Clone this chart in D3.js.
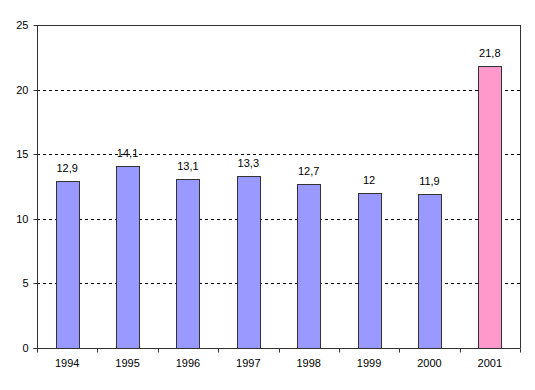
<!DOCTYPE html>
<html><head><meta charset="utf-8">
<script src="https://cdn.jsdelivr.net/npm/d3@7"></script>
<style>body{margin:0;background:#fff}svg{display:block}text{font-family:"Liberation Sans",Arial,sans-serif;font-size:11px;fill:#000}</style>
</head><body>
<script>
const years = ["1994","1995","1996","1997","1998","1999","2000","2001"];
const values = [12.9,14.1,13.1,13.3,12.7,12,11.9,21.8];
const labels = ["12,9","14,1","13,1","13,3","12,7","12","11,9","21,8"];
const yTicks = [0,5,10,15,20,25];
const colors = ["#9999FF","#9999FF","#9999FF","#9999FF","#9999FF","#9999FF","#9999FF","#FF99CC"];

const W=535,H=390, L=37, R=520, T=25, B=348;
const svg=d3.select("body").append("svg").attr("width",W).attr("height",H);
const x=d3.scaleBand().domain(years).range([L,R]).paddingInner(0.62).paddingOuter(0.31);
const xo=d3.scaleBand().domain(years).range([L,R]);
const y=d3.scaleLinear().domain([0,25]).range([B,T]);

// grid
svg.append("g").selectAll("line").data(yTicks.filter(d=>d>0&&d<25)).join("line")
 .attr("x1",L).attr("x2",R).attr("y1",d=>Math.round(y(d))+0.5).attr("y2",d=>Math.round(y(d))+0.5)
 .attr("stroke","#000").attr("stroke-dasharray","3,3");
// top & right border
svg.append("line").attr("x1",L).attr("x2",R+0.5).attr("y1",T+0.5).attr("y2",T+0.5).attr("stroke","#333");
svg.append("line").attr("x1",R+0.5).attr("x2",R+0.5).attr("y1",T).attr("y2",B).attr("stroke","#333");

// bars
svg.append("g").selectAll("rect").data(years).join("rect")
 .attr("x",d=>Math.round(x(d))+0.5).attr("width",Math.round(x.bandwidth()))
 .attr("y",(d,i)=>Math.round(y(values[i]))+0.5).attr("height",(d,i)=>Math.round(B-y(values[i])))
 .attr("fill",(d,i)=>colors[i]).attr("stroke","#333");
svg.append("g").selectAll("text").data(years).join("text")
 .attr("x",d=>x(d)+x.bandwidth()/2).attr("y",(d,i)=>y(values[i])-9)
 .attr("text-anchor","middle").text((d,i)=>labels[i]);

// y axis
const ya=svg.append("g").attr("transform",`translate(${L+0.5},0)`)
 .call(d3.axisLeft(y).tickValues(yTicks).tickSize(4).tickPadding(5).tickFormat(d3.format("d")));
ya.select(".domain").attr("stroke","#333").attr("d",`M-4,${B+0.5}H0V${T}`);
ya.selectAll(".tick line").attr("stroke","#333");
ya.selectAll(".tick text").style("font-family","Liberation Sans, Arial").style("font-size","11px").attr("fill","#000");
ya.selectAll(".tick").attr("transform",d=>`translate(0,${Math.round(y(d))+0.5})`);

// x axis
const xa=svg.append("g").attr("transform",`translate(0,${B+0.5})`);
xa.append("line").attr("x1",L).attr("x2",R+0.5).attr("stroke","#333");
xa.selectAll(".tk").data(years.concat(["end"])).join("line")
 .attr("x1",(d,i)=>Math.round(L+i*xo.step())+0.5).attr("x2",(d,i)=>Math.round(L+i*xo.step())+0.5)
 .attr("y1",0).attr("y2",4).attr("stroke","#333");
xa.selectAll("text").data(years).join("text")
 .attr("x",d=>xo(d)+xo.bandwidth()/2).attr("y",18).attr("text-anchor","middle").text(d=>d);
</script>
</body></html>
